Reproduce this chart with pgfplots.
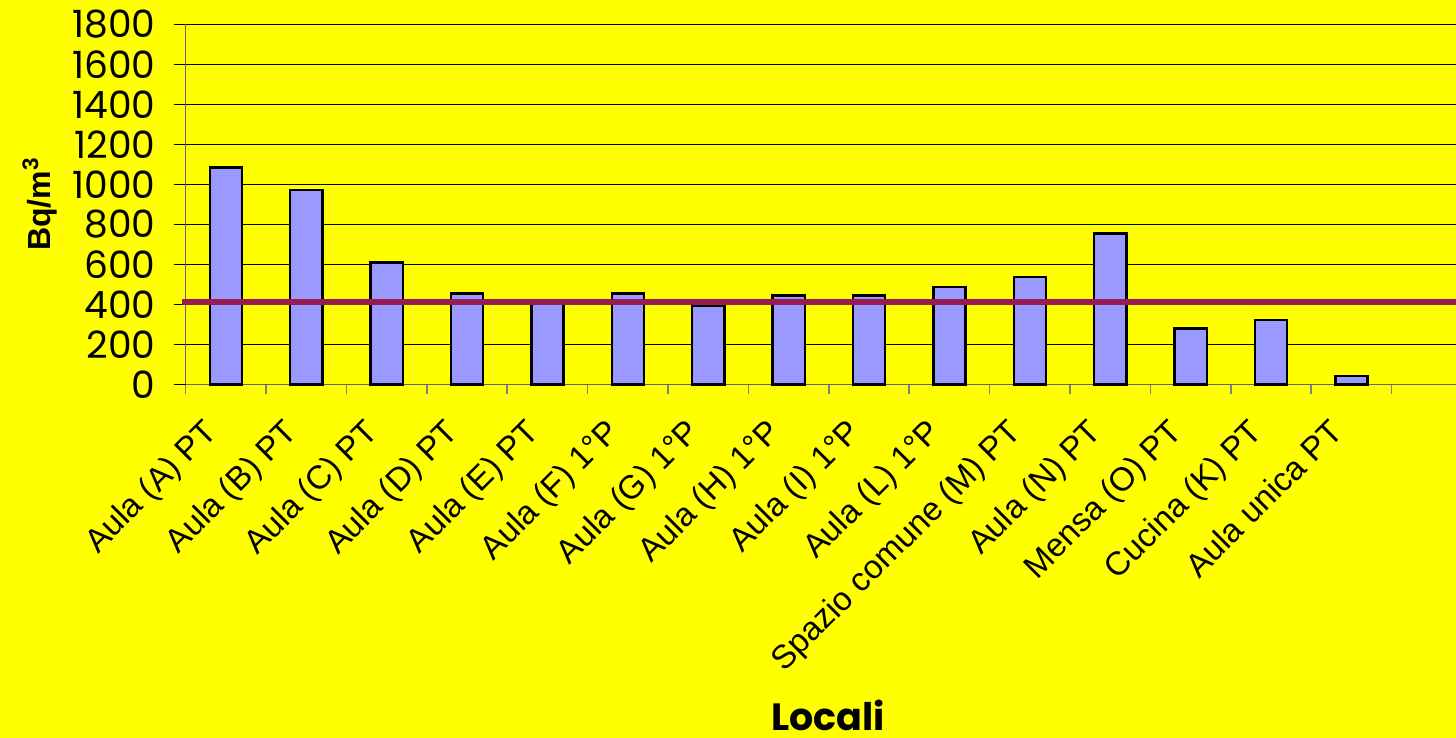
\documentclass[border=0pt]{standalone}
\usepackage{pgfplots}
\pgfplotsset{compat=1.18}
\usepackage{fontspec}
\setmainfont{Liberation Sans}
\newfontfamily\pop{Poppins}
\definecolor{bg}{RGB}{255,255,0}
\definecolor{barc}{RGB}{153,153,255}
\definecolor{limc}{RGB}{153,27,84}
\begin{document}
\begin{tikzpicture}
\path[use as bounding box, fill=bg] (-92.85bp,-176.85bp) rectangle (635.15bp,192.15bp);
\begin{axis}[
 at={(0,0)}, anchor=south west,
 scale only axis, width=635.15bp, height=180bp,
 xmin=-0.5, xmax=15.3, ymin=0, ymax=1800,
 axis lines=left, axis line style={-, draw=gray!80!black, line width=0.6bp},
 ytick={0,200,...,1800},
 ymajorgrids, grid style={black, line width=0.5bp},
 tick align=outside,
 major tick length=6bp,
 minor tick length=5bp,
 xtick={0,...,14},
 xticklabels={Aula (A) PT, Aula (B) PT, Aula (C) PT, Aula (D) PT, Aula (E) PT, Aula (F) 1°P, Aula (G) 1°P, Aula (H) 1°P, Aula (I) 1°P, Aula (L) 1°P, Spazio comune (M) PT, Aula (N) PT, Mensa (O) PT, Cucina (K) PT, Aula unica PT},
 major x tick style={draw=none},
 minor xtick={-0.5,0.5,...,14.5},
 minor x tick style={gray, line width=0.8bp},
 major y tick style={black, line width=0.6bp},
 /pgf/number format/assume math mode=true,
 /pgf/number format/1000 sep={},
 yticklabel style={font=\pop\fontsize{18.8bp}{18.8bp}\selectfont, inner sep=0pt, anchor=east, xshift=-9bp},
 xticklabel style={font=\fontsize{16.5bp}{16.5bp}\selectfont, xshift=-12bp, yshift=-10bp, rotate=45, anchor=north east, inner sep=0pt},
 clip=false,
]
\addplot[ybar, bar width=0.4, fill=barc, draw=black, line width=1.2bp] coordinates {
(0,1085) (1,971) (2,610) (3,455) (4,405) (5,455) (6,391) (7,445) (8,445) (9,488) (10,538) (11,755) (12,280) (13,321) (14,43)};
\addplot[limc, line width=3bp] coordinates {(-0.55,410) (15.3,410)};
\end{axis}
\node[rotate=90, font=\bfseries\fontsize{16bp}{16bp}\selectfont] at (-72.9bp,90.15bp) {Bq/m\textsuperscript{3}};
\node[inner sep=0pt, font=\pop\bfseries\fontsize{19bp}{19bp}\selectfont] at (321.2bp,-165.5bp) {Locali};
\end{tikzpicture}
\end{document}
